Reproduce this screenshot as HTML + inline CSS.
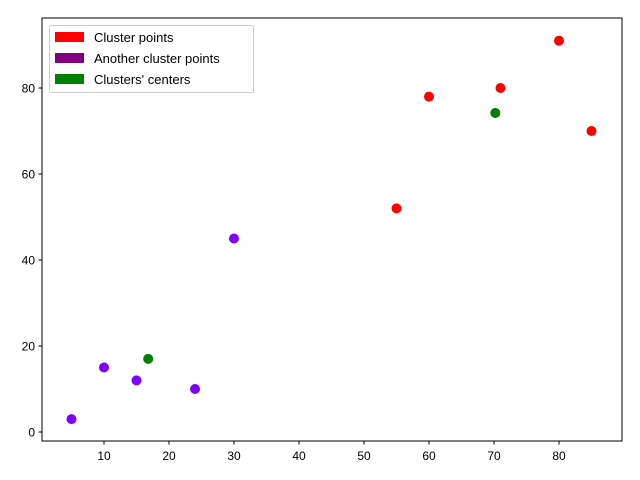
<!DOCTYPE html>
<html><head><meta charset="utf-8"><style>
body{margin:0;background:#fff;}
svg{display:block;font-family:"Liberation Sans","DejaVu Sans",sans-serif;}
</style></head><body>
<svg id="chart" width="640" height="480">
<rect x="0" y="0" width="640" height="480" fill="#fff"/>
<g id="ticks"></g>
<g id="points"></g>
<rect x="42" y="18" width="580" height="423" fill="none" stroke="#000" stroke-width="1"/>
<g>
<rect x="49.5" y="25.5" width="204" height="67" rx="2" fill="#fff" fill-opacity="0.8" stroke="#ccc"/>
<rect x="55" y="32" width="29" height="10" fill="#ff0000"/>
<text x="94" y="42" font-size="13">Cluster points</text>
<rect x="55" y="53" width="29" height="10" fill="#800080"/>
<text x="94" y="63" font-size="13">Another cluster points</text>
<rect x="55" y="74" width="29" height="10" fill="#008000"/>
<text x="94" y="84" font-size="13">Clusters' centers</text>
</g>
</svg>
<script>
const clusterX=[55,60,71,80,85];
const clusterY=[52,78,80,91,70];
const otherX=[5,10,15,24,30];
const otherY=[3,15,12,10,45];
const centerX=[16.8,70.2];
const centerY=[17,74.2];
const xTicks=[10,20,30,40,50,60,70,80];
const yTicks=[0,20,40,60,80];
function sx(v){return 39+v*6.5;}
function sy(v){return 432-v*4.3;}
const NS="http://www.w3.org/2000/svg";
const tg=document.getElementById('ticks');
const pg=document.getElementById('points');
function mk(tag,attrs,parent){const e=document.createElementNS(NS,tag);for(const k in attrs)e.setAttribute(k,attrs[k]);parent.appendChild(e);return e;}
xTicks.forEach(v=>{
  const l=mk('line',{x1:sx(v),x2:sx(v),y1:441,y2:444.5,stroke:'#000'},tg);
  
  
  const t=mk('text',{x:sx(v),y:460,'font-size':12,'text-anchor':'middle'},tg);
  t.textContent=v;
  
  
});
yTicks.forEach(v=>{
  const l=mk('line',{x1:38.5,x2:42,y1:sy(v),y2:sy(v),stroke:'#000'},tg);
  
  
  const t=mk('text',{x:35,y:sy(v)+4.5,'font-size':12,'text-anchor':'end'},tg);
  t.textContent=v;
  
  
});
function draw(xs,ys,color,name){
  xs.forEach((x,i)=>{
    const c=mk('circle',{cx:sx(x),cy:sy(ys[i]),r:5,fill:color},pg);
    
    
  });
}
draw(clusterX,clusterY,'#ff0000','cluster-point');
draw(otherX,otherY,'#8000ff','another-cluster-point');
draw(centerX,centerY,'#008000','cluster-center');
</script>
</body></html>
